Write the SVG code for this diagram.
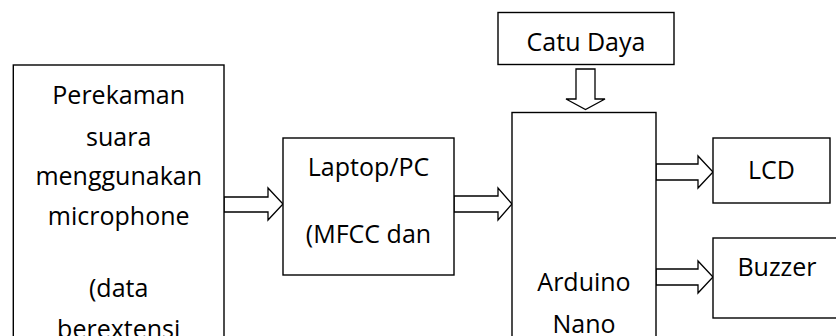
<svg xmlns="http://www.w3.org/2000/svg" width="836" height="336" viewBox="0 0 836 336">
<style>
.box{fill:#fff;stroke:#000;stroke-width:1.4}
.arr{fill:#fff;stroke:#000;stroke-width:1.3;stroke-linejoin:miter}
text{font-family:"Open Sans","Noto Sans",sans-serif;font-size:25px;fill:#000;text-anchor:middle}
</style>
<rect width="836" height="336" fill="#fff"/>
<g id="connectors">
<path class="arr" d="M224,197 H268 V188 L283,204 L268,220 V212 H224 Z"/>
<path class="arr" d="M454,196 H498 V188 L512,204 L498,220 V212 H454 Z"/>
<path class="arr" d="M576,69 V99 H566 L585.5,109.5 L605,99 H595 V69 Z"/>
<path class="arr" d="M656,164 H698 V156 L713,172 L698,188 V180 H656 Z"/>
<path class="arr" d="M656,269 H698 V261 L713,277 L698,293 V285 H656 Z"/>
</g>
<g id="perekaman">
<rect class="box" x="13.3" y="65" width="210.7" height="290"/>
<text x="118.7" y="104">Perekaman</text>
<text x="118.7" y="146">suara</text>
<text x="118.7" y="185">menggunakan</text>
<text x="118.7" y="225">microphone</text>
<text x="118.7" y="297">(data</text>
<text x="118.7" y="338">berextensi</text>
</g>
<g id="laptop">
<rect class="box" x="283" y="138" width="171" height="137"/>
<text x="368.5" y="176">Laptop/PC</text>
<text x="368.5" y="243">(MFCC dan</text>
</g>
<g id="catu-daya">
<rect class="box" x="498" y="12.5" width="176" height="52"/>
<text x="586" y="51">Catu Daya</text>
</g>
<g id="arduino">
<rect class="box" x="512" y="112.5" width="144" height="250"/>
<text x="584" y="291">Arduino</text>
<text x="584" y="333">Nano</text>
</g>
<g id="lcd">
<rect class="box" x="713" y="138" width="117" height="65"/>
<text x="771.5" y="179">LCD</text>
</g>
<g id="buzzer">
<rect class="box" x="713" y="238" width="140" height="80"/>
<text x="777" y="276">Buzzer</text>
</g>
</svg>
